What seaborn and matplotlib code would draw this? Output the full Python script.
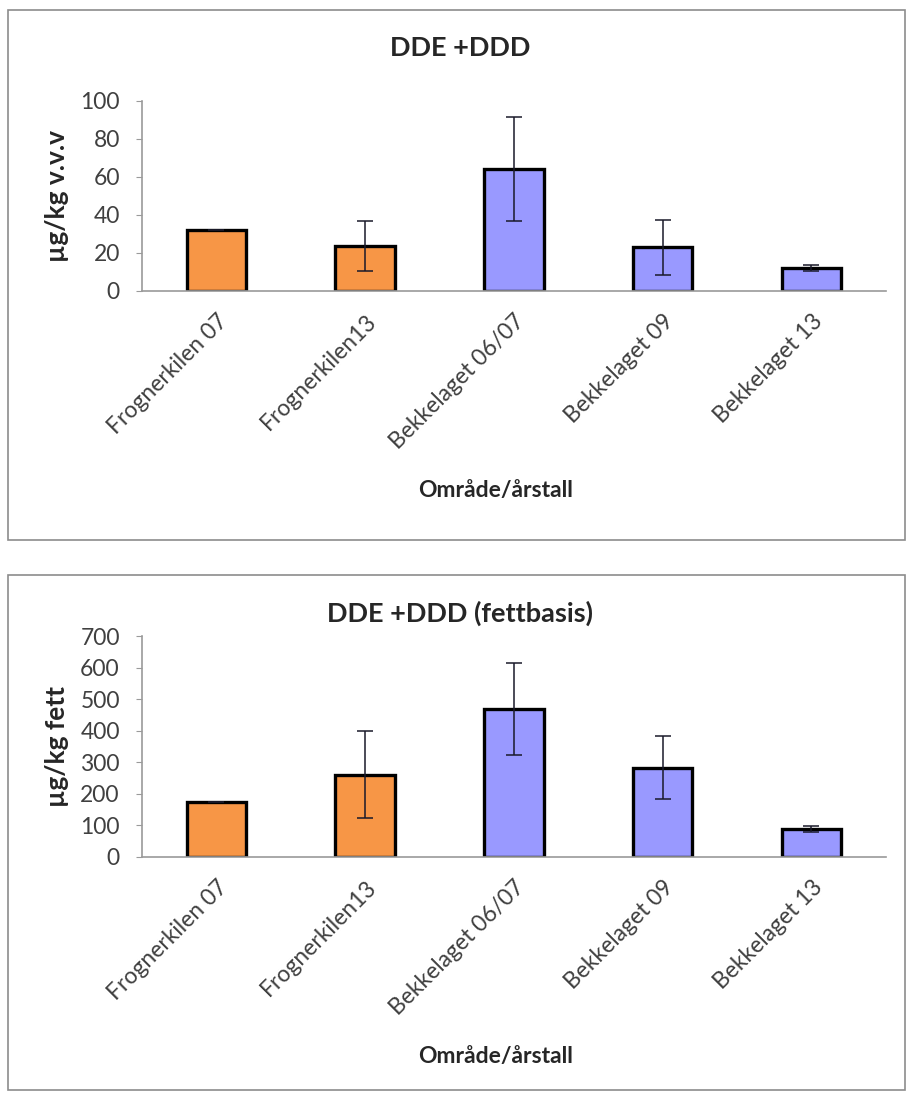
import matplotlib
matplotlib.use("Agg")
import matplotlib.pyplot as plt
from matplotlib.patches import Rectangle
import seaborn as sns
import pandas as pd

# data
omrade = ["Frognerkilen 07", "Frognerkilen13", "Bekkelaget 06/07", "Bekkelaget 09", "Bekkelaget 13"]
gruppe = ["Frognerkilen", "Frognerkilen", "Bekkelaget", "Bekkelaget", "Bekkelaget"]
vvv = [32, 23.5, 64, 23, 12]
vvv_err = [0, 13, 27.5, 14.5, 1.5]
fett = [174, 260, 469, 283, 88]
fett_err = [0, 138, 145, 100, 10]

farger = {"Frognerkilen": "#F79646", "Bekkelaget": "#9999FF"}

sns.set_style("white")
plt.rcParams["font.family"] = ["Lato", "DejaVu Sans"]

fig = plt.figure(figsize=(9.07, 10.97), dpi=100)

# panel frames
for y0, h in [(0.508, 0.483), (0.006, 0.470)]:
    fig.add_artist(Rectangle((0.009, y0), 0.989, h, transform=fig.transFigure,
                             fill=False, edgecolor="#8c8c8c", lw=1.2))


def panel(rect, verdier, feil, tittel, tittel_y, ylabel, ymax, ystep, xlab_y):
    ax = fig.add_axes(rect)
    df = pd.DataFrame({"omrade": omrade, "gruppe": gruppe, "verdi": verdier})
    sns.barplot(data=df, x="omrade", y="verdi", hue="gruppe", palette=farger,
                dodge=False, width=0.4, edgecolor="black", linewidth=2.4,
                saturation=1, legend=False, ax=ax)
    ax.errorbar(range(len(omrade)), verdier, yerr=feil, fmt="none",
                ecolor="#1a1a2a", elinewidth=1.1, capsize=6, capthick=1.1)
    ax.set_xlim(-0.5, len(omrade) - 0.5)
    ax.set_ylim(0, ymax)
    ax.set_yticks(range(0, ymax + 1, ystep))
    for s in ["top", "right"]:
        ax.spines[s].set_visible(False)
    for s in ["left", "bottom"]:
        ax.spines[s].set_color("#9a9a9a")
        ax.spines[s].set_linewidth(1.2)
    ax.set_xticks(range(len(omrade)))
    ax.set_xticklabels(omrade, rotation=45, ha="right", rotation_mode="anchor",
                       fontsize=16.5, color="#404040")
    ax.set_xticks([i - 0.5 for i in range(len(omrade) + 1)], minor=True)
    ax.tick_params(axis="x", which="major", length=0, pad=14)
    ax.tick_params(axis="x", which="minor", length=5, color="#9a9a9a", direction="out")
    ax.tick_params(axis="y", length=4, color="#9a9a9a", direction="out", pad=12,
                   labelsize=16.5, labelcolor="#404040", left=True)
    ax.set_xlabel("Område/årstall", fontsize=16.5, fontweight="bold")
    ax.xaxis.set_label_coords(0.475, xlab_y)
    ax.set_ylabel(ylabel, fontsize=19, fontweight="bold")
    ax.yaxis.label.set_va("center")
    ax.yaxis.set_label_coords(-0.115, 0.5)
    fig.text(0.507, tittel_y, tittel, fontsize=19.5, fontweight="bold",
             ha="center", va="center")
    return ax


panel([0.1566, 0.735, 0.82, 0.173], vvv, vvv_err, "DDE +DDD", 0.956,
      "µg/kg v.v.v", 100, 20, -1.0)
panel([0.1566, 0.219, 0.82, 0.201], fett, fett_err, "DDE +DDD (fettbasis)", 0.441,
      "µg/kg fett", 700, 100, -0.86)

fig.savefig("out.png", dpi=100)
